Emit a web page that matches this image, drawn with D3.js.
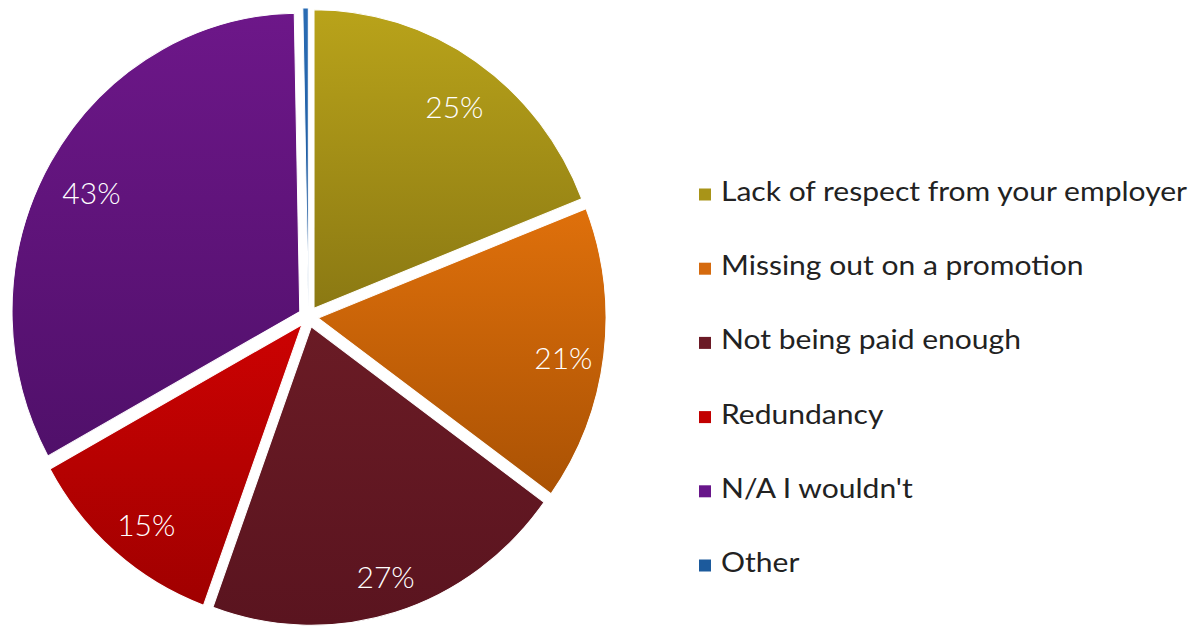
<!DOCTYPE html>
<html lang="en">
<head>
<meta charset="UTF-8">
<title>Reasons</title>
<script src="https://d3js.org/d3.v7.min.js"></script>
<style>
    body { margin: 0; background: #fff; }
    svg { display: block; }
</style>
</head>
<body>
<div id="chart"></div>
<script>
    // data (multi-answer survey, so shares sum past 100)
    const categories = ["Lack of respect from your employer", "Missing out on a promotion", "Not being paid enough", "Redundancy", "N/A I wouldn't", "Other"]
    const values = [25, 21, 27, 15, 43, 0.4]
    const topColors = ["#b9a31a", "#df700b", "#6a1b25", "#cc0202", "#6d1789", "#2a6cb4"]
    const bottomColors = ["#8b7913", "#aa5204", "#5a141f", "#a00000", "#50106a", "#1a5498"]
    const legendColors = ["#a89418", "#d56a0e", "#6b1a26", "#c20000", "#68168a", "#1c5a9c"]

    const width = 1192
    const height = 626
    const cx = 308.4, cy = 316.8
    const r = 287.7
    const sy = 1.0376      // pie is a touch taller than wide
    const explode = 10
    const labelR = 244

    const svg = d3.select("#chart").append("svg")
        .attr("width", width)
        .attr("height", height)

    const defs = svg.append("defs")
    values.forEach((v, i) => {
        const grad = defs.append("linearGradient")
            .attr("id", "grad" + i)
            .attr("x1", 0).attr("y1", 0).attr("x2", 0).attr("y2", 1)
        grad.append("stop").attr("offset", 0).attr("stop-color", topColors[i])
        grad.append("stop").attr("offset", 1).attr("stop-color", bottomColors[i])
    })

    const pie = d3.pie().sort(null).value(d => d)
    const arcs = pie(values)
    const arc = d3.arc().innerRadius(0).outerRadius(r)

    const pieG = svg.append("g")
        .attr("transform", "translate(" + cx + "," + cy + ") scale(1," + sy + ")")

    pieG.selectAll("path")
        .data(arcs)
        .join("path")
        .attr("transform", d => {
            const a = (d.startAngle + d.endAngle) / 2
            return "translate(" + (Math.sin(a) * explode) + "," + (-Math.cos(a) * explode) + ")"
        })
        .attr("d", arc)
        .attr("fill", (d, i) => "url(#grad" + i + ")")
        .attr("stroke", "#fff")
        .attr("stroke-width", 1)

    // percentage labels (the tiny "Other" slice has none)
    svg.append("g").selectAll("text")
        .data(arcs.filter(d => d.data >= 1))
        .join("text")
        .attr("x", d => cx + 3 + Math.sin((d.startAngle + d.endAngle) / 2) * (labelR + explode))
        .attr("y", d => cy + 8 - Math.cos((d.startAngle + d.endAngle) / 2) * (labelR + explode) * sy)
        .attr("dy", "0.36em")
        .attr("text-anchor", "middle")
        .style("font-family", "Lato, 'DejaVu Sans', sans-serif")
        .style("font-weight", 300)
        .style("font-size", "30px")
        .style("fill", "#fff")
        .text(d => d.data + "%")

    // legend
    const legendX = 699
    const legendY = 201
    const legendStep = 74.2
    const legend = svg.append("g")

    const rows = legend.selectAll("g")
        .data(categories)
        .join("g")
        .attr("transform", (d, i) => "translate(" + legendX + "," + (legendY + i * legendStep) + ")")

    rows.append("rect")
        .attr("x", 0)
        .attr("y", -12.5)
        .attr("width", 12)
        .attr("height", 12)
        .attr("fill", (d, i) => legendColors[i])

    const texts = rows.append("text")
        .attr("x", 22)
        .attr("y", 0)
        .style("font-family", "Lato, 'DejaVu Sans', sans-serif")
        .style("font-size", "27px")
        .style("fill", "#222")
        .text(d => d)

    // stretch to the width of the original face
    const k = 466 / texts.node().getComputedTextLength()
    texts.each(function() {
        const w = this.getComputedTextLength()
        d3.select(this).attr("textLength", w * k).attr("lengthAdjust", "spacingAndGlyphs")
    })
</script>
</body>
</html>
